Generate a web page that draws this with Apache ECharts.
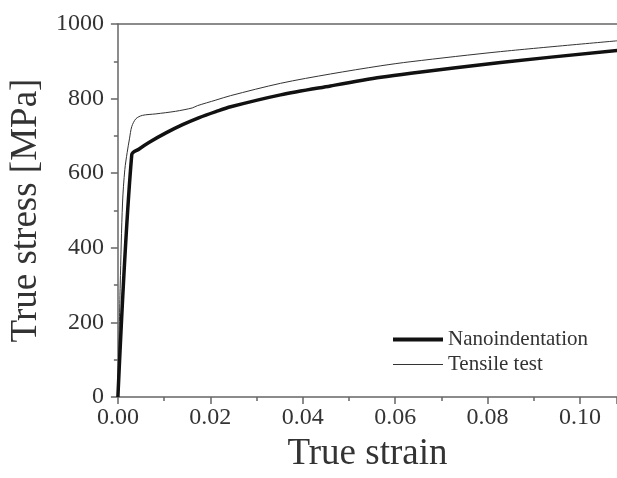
<!DOCTYPE html>
<html>
<head>
<meta charset="utf-8">
<script src="https://cdn.jsdelivr.net/npm/echarts@6/dist/echarts.min.js"></script>
<style>
  html, body { margin: 0; padding: 0; background: #fff; }
  #chart { width: 617px; height: 478px; }
</style>
</head>
<body>
<div id="chart"></div>
<script>
// Flow curves: true strain vs true stress (MPa)
const nanoStrain = [0, 0.0030, 0.0046, 0.0068, 0.0104, 0.0140, 0.0176, 0.0212, 0.0244, 0.0352, 0.0460, 0.0569, 0.0634, 0.0828, 0.1081];
const nanoStress = [0, 650, 665, 683, 708, 730, 749, 765, 778, 810, 834, 857, 868, 897, 929];

const tensileStrain = [0, 0.0005, 0.0010, 0.0015, 0.0020, 0.0025, 0.0030, 0.0039, 0.0053, 0.0082, 0.0125, 0.0161, 0.0172, 0.0212, 0.0244, 0.0352, 0.0460, 0.0569, 0.0634, 0.0828, 0.1081];
const tensileStress = [0, 300, 520, 610, 655, 692, 725, 746, 755, 759, 766, 775, 781, 796, 808, 841, 866, 888, 899, 926, 955];

const seriesNames = ['Nanoindentation', 'Tensile test'];
const xTickLabels = ['0.00', '0.02', '0.04', '0.06', '0.08', '0.10'];
const yTickLabels = ['0', '200', '400', '600', '800', '1000'];

const pairs = (xs, ys) => xs.map((x, i) => [x, ys[i]]);

const serif = '"Liberation Serif", "DejaVu Serif", serif';
const axisColor = '#666';
const textColor = '#333';

const chart = echarts.init(document.getElementById('chart'), null, { renderer: 'canvas' });
chart.setOption({
  animation: false,
  backgroundColor: '#fff',
  grid: { left: 117, right: 0, top: 24, bottom: 80, containLabel: false },
  legend: {
    orient: 'vertical',
    left: 388,
    top: 324,
    itemWidth: 50,
    itemHeight: 14,
    itemGap: 4,
    textStyle: { fontFamily: serif, fontSize: 21, color: textColor },
    data: [
      { name: seriesNames[0], icon: 'path://M0,0H50V4H0Z' },
      { name: seriesNames[1], icon: 'path://M0,0H50V1H0Z' }
    ]
  },
  xAxis: [{
    type: 'value',
    min: 0,
    max: 0.108,
    interval: 0.02,
    name: 'True strain',
    nameLocation: 'middle',
    nameGap: 39,
    nameTextStyle: { fontFamily: serif, fontSize: 37, color: textColor },
    axisLine: { show: true, lineStyle: { color: axisColor, width: 1.5 } },
    axisTick: { show: true, inside: false, length: 7, lineStyle: { color: axisColor, width: 1.5 } },
    minorTick: { show: true, splitNumber: 2, length: 4, lineStyle: { color: axisColor, width: 1.5 } },
    splitLine: { show: false },
    axisLabel: {
      margin: 9,
      fontFamily: serif, fontSize: 24, color: textColor,
      formatter: v => xTickLabels[Math.round(v / 0.02)] ?? ''
    }
  }, {
    type: 'value',
    position: 'top',
    min: 0,
    max: 0.108,
    axisLine: { show: true, onZero: false, lineStyle: { color: axisColor, width: 1.5 } },
    axisTick: { show: false },
    axisLabel: { show: false },
    splitLine: { show: false }
  }],
  yAxis: {
    type: 'value',
    min: 0,
    max: 1000,
    interval: 200,
    name: 'True stress [MPa]',
    nameLocation: 'middle',
    nameGap: 65,
    nameTextStyle: { fontFamily: serif, fontSize: 37, color: textColor },
    axisLine: { show: true, lineStyle: { color: axisColor, width: 1.5 } },
    axisTick: { show: true, inside: false, length: 7, lineStyle: { color: axisColor, width: 1.5 } },
    minorTick: { show: true, splitNumber: 2, length: 4, lineStyle: { color: axisColor, width: 1.5 } },
    splitLine: { show: false },
    axisLabel: {
      margin: 14,
      fontFamily: serif, fontSize: 24, color: textColor,
      formatter: v => yTickLabels[Math.round(v / 200)] ?? ''
    }
  },
  series: [{
    name: seriesNames[0],
    type: 'line',
    data: pairs(nanoStrain, nanoStress),
    symbol: 'none',
    smooth: 0.3,
    lineStyle: { color: '#111', width: 3.5 },
    itemStyle: { color: '#111' },
    z: 3
  }, {
    name: seriesNames[1],
    type: 'line',
    data: pairs(tensileStrain, tensileStress),
    symbol: 'none',
    smooth: 0.3,
    lineStyle: { color: '#333', width: 1 },
    itemStyle: { color: '#333' },
    z: 2
  }]
});
</script>
</body>
</html>
